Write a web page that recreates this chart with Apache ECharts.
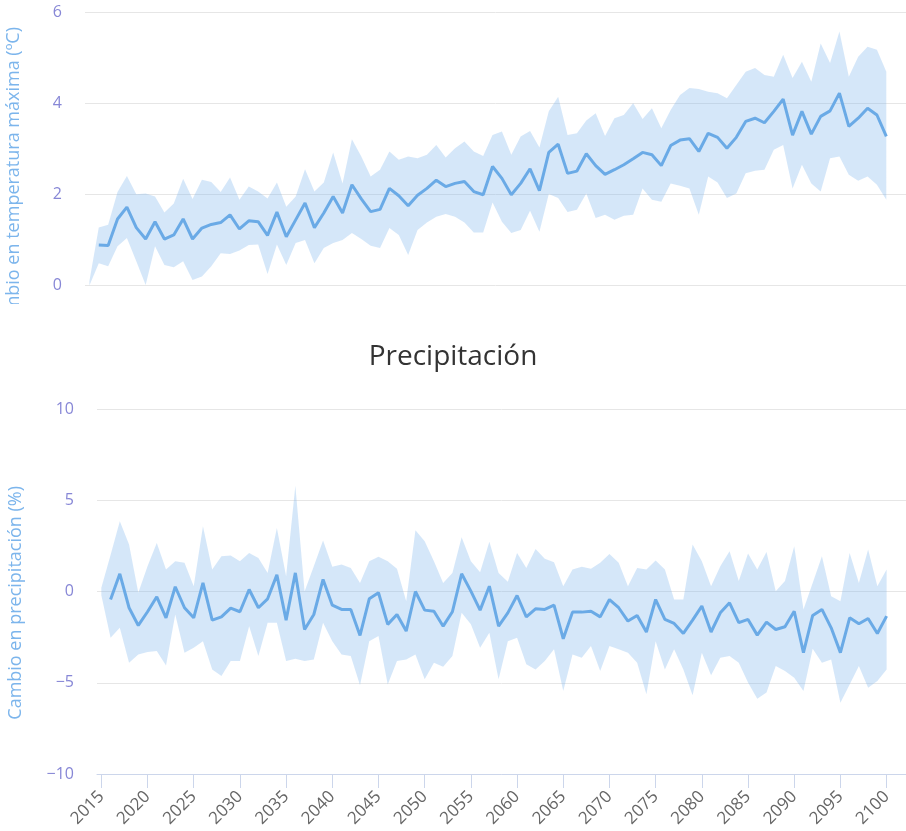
<!DOCTYPE html>
<html>
<head>
<meta charset="utf-8">
<script src="https://cdn.jsdelivr.net/npm/echarts@6/dist/echarts.min.js"></script>
<style>
html,body{margin:0;padding:0;background:#fff;}
#chart{width:906px;height:831px;}
</style>
</head>
<body>
<div id="chart"></div>
<script>
const years = [2015,2016,2017,2018,2019,2020,2021,2022,2023,2024,2025,2026,2027,2028,2029,2030,2031,2032,2033,2034,2035,2036,
  2037,2038,2039,2040,2041,2042,2043,2044,2045,2046,2047,2048,2049,2050,2051,2052,2053,2054,2055,2056,2057,2058,2059,2060,
  2061,2062,2063,2064,2065,2066,2067,2068,2069,2070,2071,2072,2073,2074,2075,2076,2077,2078,2079,2080,2081,2082,2083,2084,
  2085,2086,2087,2088,2089,2090,2091,2092,2093,2094,2095,2096,2097,2098,2099,2100];
const xTickLabels = [2015,2020,2025,2030,2035,2040,2045,2050,2055,2060,2065,2070,2075,2080,2085,2090,2095,2100];
const tempTicks = [0,2,4,6];
const precTicks = [-10,-5,0,5,10];

const tempMean = [null,0.89,0.88,1.46,1.72,1.27,1.02,1.40,1.02,1.11,1.46,1.02,1.26,1.34,1.38,1.55,1.24,1.42,1.40,1.10,1.61,1.07,
  1.44,1.81,1.27,1.59,1.95,1.59,2.21,1.90,1.62,1.67,2.13,1.97,1.75,1.98,2.13,2.31,2.17,2.24,2.28,2.06,1.99,2.61,2.35,1.99,
  2.24,2.56,2.08,2.92,3.10,2.46,2.51,2.89,2.63,2.44,2.54,2.65,2.78,2.92,2.87,2.63,3.07,3.19,3.22,2.94,3.34,3.25,3.01,3.25,
  3.60,3.67,3.57,3.82,4.09,3.30,3.82,3.32,3.71,3.83,4.22,3.49,3.67,3.89,3.74,3.27];
const tempUpper = [0.10,1.27,1.33,2.05,2.40,2.00,2.02,1.95,1.60,1.80,2.34,1.90,2.32,2.27,2.05,2.37,1.88,2.17,2.06,1.91,2.26,1.73,
  1.95,2.55,2.06,2.26,2.92,2.24,3.21,2.83,2.39,2.54,2.94,2.76,2.83,2.79,2.87,3.08,2.81,3.01,3.16,2.94,2.84,3.30,3.38,2.87,
  3.27,3.39,3.03,3.82,4.14,3.30,3.34,3.62,3.78,3.28,3.67,3.74,4.00,3.65,3.89,3.45,3.85,4.18,4.33,4.31,4.25,4.22,4.11,4.40,
  4.69,4.77,4.62,4.58,5.06,4.55,4.91,4.47,5.31,4.88,5.57,4.58,5.02,5.24,5.17,4.69];
const tempLower = [0.00,0.49,0.42,0.86,1.04,0.53,0.01,0.86,0.45,0.40,0.53,0.12,0.20,0.42,0.71,0.69,0.77,0.89,0.90,0.25,0.90,0.45,
  0.93,1.00,0.49,0.82,0.93,1.00,1.15,1.02,0.87,0.82,1.26,1.11,0.67,1.22,1.38,1.51,1.57,1.51,1.38,1.16,1.16,1.82,1.40,1.15,
  1.22,1.64,1.18,2.01,1.92,1.61,1.66,2.02,1.48,1.55,1.44,1.53,1.55,2.13,1.88,1.84,2.24,2.19,2.13,1.55,2.39,2.26,1.92,2.02,
  2.46,2.52,2.54,2.98,3.08,2.13,2.65,2.24,2.06,2.79,2.83,2.43,2.30,2.39,2.21,1.88];

const precMean = [null,-0.44,0.97,-0.89,-1.86,-1.11,-0.29,-1.44,0.26,-0.89,-1.44,0.47,-1.57,-1.39,-0.91,-1.11,0.11,-0.89,-0.40,0.91,-1.57,1.02,
  -2.08,-1.26,0.66,-0.75,-0.98,-0.98,-2.41,-0.40,-0.07,-1.80,-1.26,-2.17,0.00,-1.02,-1.08,-1.90,-1.11,0.97,0.02,-1.02,0.29,-1.90,-1.17,-0.22,
  -1.39,-0.95,-0.98,-0.75,-2.59,-1.13,-1.13,
  -1.08,-1.39,-0.44,-0.89,-1.62,-1.31,-2.22,-0.44,-1.53,-1.75,-2.30,-1.57,-0.80,-2.22,-1.17,-0.62,-1.71,-1.53,-2.39,-1.68,-2.08,-1.93,
  -1.08,-3.35,-1.31,-0.98,-1.99,-3.35,-1.44,-1.77,-1.48,-2.30,-1.35];
const precUpper = [0.20,2.00,3.85,2.57,-0.07,1.39,2.66,1.20,1.66,1.57,0.29,3.57,1.20,1.93,1.97,1.66,2.11,1.84,1.02,3.48,0.84,5.80,
  0.00,1.39,2.79,1.35,1.48,1.29,0.47,1.66,1.90,1.66,1.24,-0.53,3.35,2.75,1.66,0.47,1.02,2.97,1.66,1.06,2.72,1.02,0.53,2.11,
  1.29,2.33,1.79,1.60,0.29,1.20,1.35,
  1.24,1.57,2.06,1.57,0.29,1.29,1.20,1.70,1.20,-0.44,-0.44,2.57,1.66,0.29,1.39,2.21,0.57,2.08,1.20,2.17,0.02,0.57,
  2.48,-0.98,0.47,1.93,-0.26,-0.53,2.11,0.47,2.30,0.29,1.20];
const precLower = [-0.20,-2.53,-1.99,-3.90,-3.45,-3.32,-3.26,-4.05,-1.26,-3.35,-3.08,-2.72,-4.27,-4.63,-3.81,-3.81,-1.90,-3.54,-1.71,-1.71,-3.81,-3.68,
  -3.81,-3.72,-1.71,-2.72,-3.45,-3.54,-5.14,-2.72,-2.44,-5.09,-3.81,-3.72,-3.45,-4.81,-3.90,-4.12,-3.54,-1.17,-1.80,-3.08,-2.26,-4.81,-2.72,-2.53,
  -3.99,-4.27,-3.81,-3.17,-5.45,-3.45,-3.63,
  -2.99,-4.36,-2.99,-3.17,-3.35,-3.90,-5.63,-2.72,-4.27,-3.17,-4.27,-5.69,-3.35,-4.59,-3.63,-3.54,-3.90,-4.99,-5.87,-5.54,-4.08,-4.36,
  -4.72,-5.45,-3.14,-3.90,-3.72,-6.09,-5.09,-4.08,-5.27,-4.90,-4.27];

const titleText = 'Precipitación';
const tempAxisTitle = 'Cambio en temperatura máxima (ºC)';
const precAxisTitle = 'Cambio en precipitación (%)';

function pairs(vals) {
  const out = [];
  years.forEach((y, i) => { if (vals[i] !== null) out.push([y, vals[i]]); });
  return out;
}
function bandData(lo, up) {
  return years.map((y, i) => [y, lo[i], up[i]]);
}
function bandRenderer(lo, up, color) {
  return function (params, api) {
    if (params.dataIndex !== 0) return null;
    const pts = [];
    for (let i = 0; i < years.length; i++) pts.push(api.coord([years[i], up[i]]));
    for (let i = years.length - 1; i >= 0; i--) pts.push(api.coord([years[i], lo[i]]));
    return {type: 'polygon', shape: {points: pts}, style: {fill: color, stroke: null}, silent: true};
  };
}

const FONT = 'Open Sans';
const bandColor = 'rgba(124,181,236,0.32)';
const lineColor = '#6aaae6';
const tickColor = '#8787d6';
const titleColor = '#7cb5ec';
const minus = v => String(v).replace('-', '\u2212');

const chart = echarts.init(document.getElementById('chart'), null, {renderer: 'canvas'});
const option = {
  animation: false,
  backgroundColor: '#ffffff',
  title: {
    text: titleText, left: 'center', top: 338,
    textStyle: {fontFamily: FONT, fontSize: 28, fontWeight: 'normal', color: '#333333'}
  },
  grid: [
    {left: 85, right: -20, top: 12, height: 273.5},
    {left: 97, right: -20, top: 409, height: 365}
  ],
  xAxis: [
    {type: 'value', gridIndex: 0, min: 2014.53, max: 2102.1, show: false, splitLine: {show: false}},
    {type: 'value', gridIndex: 1, min: 2014.53, max: 2102.1,
      splitLine: {show: false},
      axisLine: {show: true, onZero: false, lineStyle: {color: '#ccd6eb', width: 1}},
      axisTick: {show: true, length: 14, customValues: xTickLabels, lineStyle: {color: '#ccd6eb'}},
      axisLabel: {customValues: xTickLabels, rotate: 45, margin: 20, color: '#666666', fontFamily: FONT, fontSize: 17,
        formatter: v => String(v)}
    }
  ],
  yAxis: [
    {type: 'value', gridIndex: 0, min: tempTicks[0], max: tempTicks[tempTicks.length - 1], interval: 2,
      axisLine: {show: false}, axisTick: {show: false},
      splitLine: {lineStyle: {color: '#e6e6e6', width: 1}},
      axisLabel: {color: tickColor, fontFamily: FONT, fontSize: 16, margin: 23}
    },
    {type: 'value', gridIndex: 1, min: precTicks[0], max: precTicks[precTicks.length - 1], interval: 5,
      axisLine: {show: false}, axisTick: {show: false},
      splitLine: {lineStyle: {color: '#e6e6e6', width: 1}},
      axisLabel: {color: tickColor, fontFamily: FONT, fontSize: 16, margin: 23, formatter: v => minus(v)}
    }
  ],
  series: [
    {type: 'custom', xAxisIndex: 0, yAxisIndex: 0, coordinateSystem: 'cartesian2d',
      data: bandData(tempLower, tempUpper), encode: {x: 0, y: [1, 2]},
      renderItem: bandRenderer(tempLower, tempUpper, bandColor), silent: true, z: 1},
    {type: 'line', xAxisIndex: 0, yAxisIndex: 0, data: pairs(tempMean), symbol: 'none',
      lineStyle: {color: lineColor, width: 3}, z: 3},
    {type: 'custom', xAxisIndex: 1, yAxisIndex: 1, coordinateSystem: 'cartesian2d',
      data: bandData(precLower, precUpper), encode: {x: 0, y: [1, 2]},
      renderItem: bandRenderer(precLower, precUpper, bandColor), silent: true, z: 1},
    {type: 'line', xAxisIndex: 1, yAxisIndex: 1, data: pairs(precMean), symbol: 'none',
      lineStyle: {color: lineColor, width: 3}, z: 3}
  ],
  graphic: [
    {type: 'text', x: 14, y: 27, rotation: Math.PI / 2, z: 10,
      style: {text: tempAxisTitle, fill: titleColor, font: '18px "Open Sans"', align: 'right', verticalAlign: 'middle',
        textAlign: 'right', textVerticalAlign: 'middle'}},
    {type: 'rect', z: 20, shape: {x: 0, y: 304, width: 45, height: 40}, style: {fill: '#ffffff'}},
    {type: 'text', x: 16, y: 486, rotation: Math.PI / 2, z: 10,
      style: {text: precAxisTitle, fill: titleColor, font: '18px "Open Sans"', align: 'right', verticalAlign: 'middle',
        textAlign: 'right', textVerticalAlign: 'middle'}}
  ]
};
chart.setOption(option);
</script>
</body>
</html>
